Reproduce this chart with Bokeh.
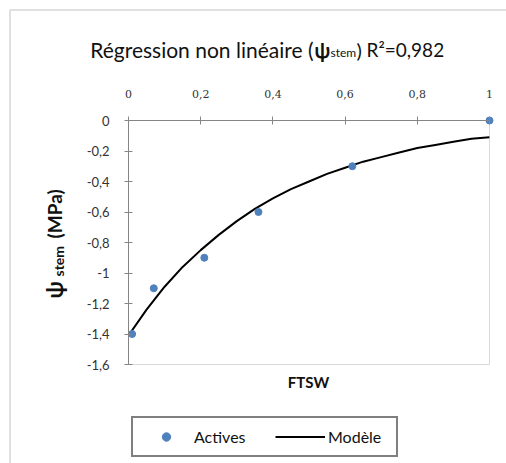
from bokeh.plotting import figure
from bokeh.models import (LinearAxis, FixedTicker, Range1d, Label, Legend,
                          LegendItem, BoxAnnotation)
from bokeh.embed import file_html
from bokeh.resources import INLINE

# ---------------- data ----------------
ftsw_obs = [0.01, 0.07, 0.21, 0.36, 0.62, 1.0]
psi_obs = [-1.40, -1.10, -0.90, -0.60, -0.30, 0.00]

ftsw_model = [0.0, 0.05, 0.10, 0.15, 0.20, 0.25, 0.30, 0.35, 0.40, 0.45, 0.50,
              0.55, 0.60, 0.65, 0.70, 0.75, 0.80, 0.85, 0.90, 0.95, 1.0]
psi_model = [-1.41, -1.24, -1.09, -0.96, -0.85, -0.75, -0.66, -0.58, -0.51, -0.45, -0.40,
             -0.35, -0.31, -0.27, -0.24, -0.21, -0.18, -0.16, -0.14, -0.12, -0.11]

x_ticks = [0, 0.2, 0.4, 0.6, 0.8, 1]
x_tick_labels = ["0", "0,2", "0,4", "0,6", "0,8", "1"]
y_ticks = [0, -0.2, -0.4, -0.6, -0.8, -1, -1.2, -1.4, -1.6]
y_tick_labels = ["0", "-0,2", "-0,4", "-0,6", "-0,8", "-1", "-1,2", "-1,4", "-1,6"]

title_main = "Régression non linéaire ("
title_psi = "ψ"
title_sub = "stem"
title_close = ")"
title_r2 = "R²=0,982"
ylab_psi = "ψ"
ylab_sub = "stem"
ylab_unit = "(MPa)"
xlab = "FTSW"
legend_labels = ["Actives", "Modèle"]

# ---------------- layout (canvas pixels) ----------------
W, H = 506, 463
X0_PX, X1_PX = 128, 489      # pixel position of x = 0 and x = 1
Y0_PX, Y1_PX = 120, 364      # pixel position of y = 0 and y = -1.6
UX = 1.0 / (X1_PX - X0_PX)   # data units per pixel
UY = 1.6 / (Y1_PX - Y0_PX)


def dx(px):
    return (px - X0_PX) * UX


def dy(py):
    return -(py - Y0_PX) * UY


# the frame spans the whole canvas; axes are pinned at x=0 / y=0
p = figure(width=W, height=H, output_backend="svg", toolbar_location=None,
           x_range=Range1d(dx(0), dx(W)), y_range=Range1d(dy(H), dy(0)),
           x_axis_location=None, y_axis_location=None,
           min_border=0, min_border_left=0, min_border_right=0,
           min_border_top=0, min_border_bottom=0)
p.grid.visible = False
p.outline_line_color = None
p.background_fill_color = "white"
p.border_fill_color = "white"

AXIS_COL = "#868686"

xa = LinearAxis(ticker=FixedTicker(ticks=x_ticks),
                major_label_overrides={t: l for t, l in zip(x_ticks, x_tick_labels)},
                fixed_location=0, bounds=(0, 1))
xa.axis_line_color = AXIS_COL
xa.major_tick_line_color = AXIS_COL
xa.minor_tick_line_color = None
xa.major_tick_in = 4
xa.major_tick_out = 4
xa.major_label_standoff = 19
xa.major_label_text_font = "DejaVu Serif"
xa.major_label_text_font_size = "11px"
xa.major_label_text_color = "#333333"
p.add_layout(xa, "above")

ya = LinearAxis(ticker=FixedTicker(ticks=y_ticks),
                major_label_overrides={t: l for t, l in zip(y_ticks, y_tick_labels)},
                fixed_location=0, bounds=(-1.6, 0))
ya.axis_line_color = AXIS_COL
ya.major_tick_line_color = AXIS_COL
ya.minor_tick_line_color = None
ya.major_tick_in = 4
ya.major_tick_out = 4
ya.major_label_standoff = 15
ya.major_label_text_font = "Lato"
ya.major_label_text_font_size = "13px"
ya.major_label_text_color = "#333333"
p.add_layout(ya, "left")

# plot-area box (right & bottom edges)
p.add_layout(BoxAnnotation(left=0, right=1, top=0, bottom=-1.6,
                           fill_alpha=0, line_color=AXIS_COL, line_width=1))
# chart border (left & top visible)
p.add_layout(BoxAnnotation(left=dx(9.5), right=dx(3000), top=dy(9.5), bottom=dy(3000),
                           fill_alpha=0, line_color="#999999", line_width=2))

line_r = p.line(ftsw_model, psi_model, line_color="black", line_width=2)
pts_r = p.scatter(ftsw_obs, psi_obs, size=7, fill_color="#4F81BD", line_color="#4F81BD")

# title
TF = "Lato"
TC = "#111111"
p.add_layout(Label(x=dx(313), y=dy(49), text=title_main, text_align="right",
                   text_baseline="alphabetic", text_font=TF, text_font_size="21px",
                   text_color=TC))
p.add_layout(Label(x=dx(314), y=dy(49), text=title_psi, text_align="left",
                   text_baseline="alphabetic", text_font=TF, text_font_size="20px",
                   text_font_style="bold", text_color=TC))
p.add_layout(Label(x=dx(330), y=dy(52), text=title_sub, text_align="left",
                   text_baseline="alphabetic", text_font=TF, text_font_size="12px",
                   text_color=TC))
p.add_layout(Label(x=dx(356), y=dy(49), text=title_close, text_align="left",
                   text_baseline="alphabetic", text_font=TF, text_font_size="20px",
                   text_color=TC))
p.add_layout(Label(x=dx(366), y=dy(49), text=title_r2, text_align="left",
                   text_baseline="alphabetic", text_font=TF, text_font_size="19px",
                   text_color=TC))

# y axis label (rotated)
ANG = 1.5707963267948966
p.add_layout(Label(x=dx(54), y=dy(298), text=ylab_psi, angle=ANG, text_align="left",
                   text_baseline="alphabetic", text_font=TF, text_font_size="22px",
                   text_font_style="bold", text_color=TC))
p.add_layout(Label(x=dx(58), y=dy(276), text=ylab_sub, angle=ANG, text_align="left",
                   text_baseline="alphabetic", text_font=TF, text_font_size="14px",
                   text_font_style="bold", text_color=TC))
p.add_layout(Label(x=dx(54), y=dy(238), text=ylab_unit, angle=ANG, text_align="left",
                   text_baseline="alphabetic", text_font=TF, text_font_size="19px",
                   text_font_style="bold", text_color=TC))

# x axis label
p.add_layout(Label(x=dx(308), y=dy(381), text=xlab, text_align="center",
                   text_baseline="middle", text_font=TF, text_font_size="15px",
                   text_font_style="bold", text_color=TC))

legend = Legend(items=[LegendItem(label=legend_labels[0], renderers=[pts_r]),
                       LegendItem(label=legend_labels[1], renderers=[line_r])],
                orientation="horizontal",
                location=(131, H - 457),
                border_line_color="black", border_line_width=2,
                background_fill_color="white", background_fill_alpha=1,
                label_text_font="Lato", label_text_font_size="16px",
                label_text_color=TC,
                glyph_width=50, glyph_height=21, label_height=21, label_width=60,
                label_standoff=3, spacing=21, padding=8, margin=0)
p.add_layout(legend, "center")

open("out.html", "w").write(file_html(p, INLINE))
